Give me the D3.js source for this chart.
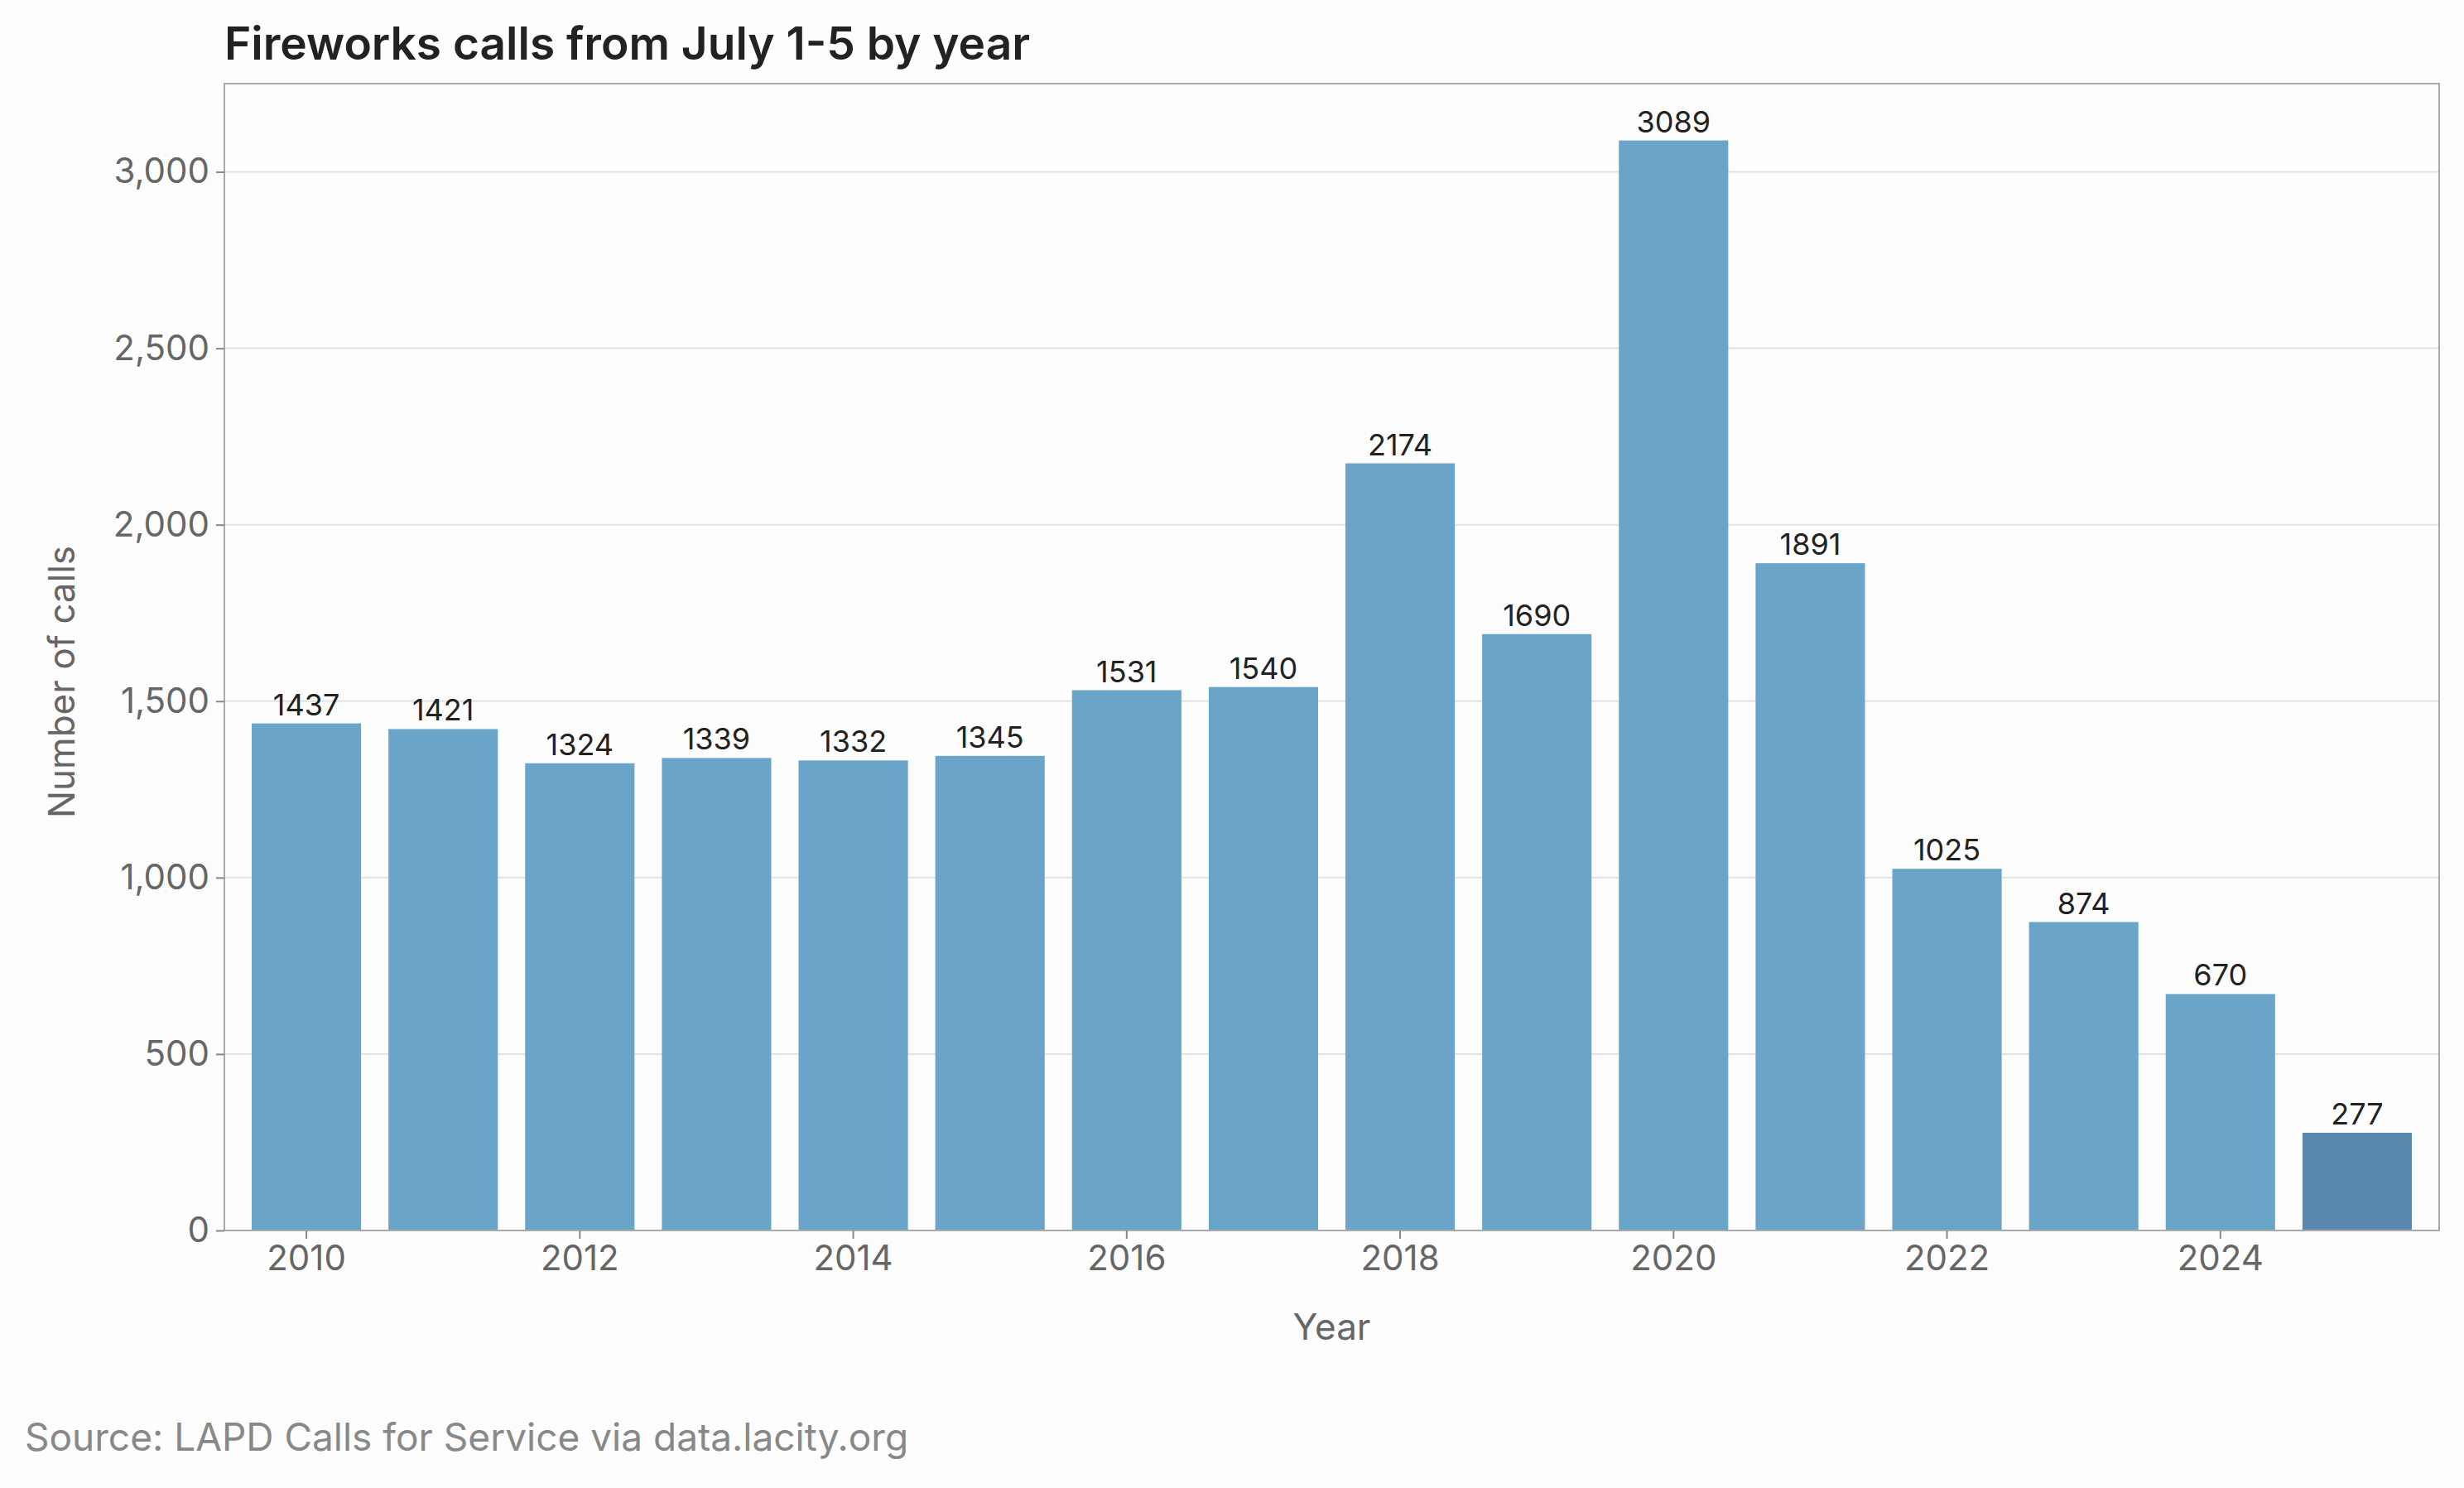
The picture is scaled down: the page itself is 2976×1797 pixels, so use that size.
<!DOCTYPE html>
<html><head><meta charset="utf-8">
<script src="https://cdn.jsdelivr.net/npm/d3@7"></script>
<style>body{margin:0;background:#fdfdfd}svg{display:block}</style>
</head><body><svg id="c" width="2976" height="1797"></svg>
<script>
const years=[2010,2011,2012,2013,2014,2015,2016,2017,2018,2019,2020,2021,2022,2023,2024,2025];
const calls=[1437,1421,1324,1339,1332,1345,1531,1540,2174,1690,3089,1891,1025,874,670,277];
const yTicks=[0,500,1000,1500,2000,2500,3000];
const xTickYears=[2010,2012,2014,2016,2018,2020,2022,2024];
const title="Fireworks calls from July 1-5 by year";
const source="Source: LAPD Calls for Service via data.lacity.org";

const svg=d3.select("#c"),F="Inter, 'Liberation Sans', sans-serif";
const L=271,R=2946,T=101,B=1486;
svg.append("rect").attr("width",2976).attr("height",1797).attr("fill","#fdfdfd");
const x=d3.scaleBand().domain(years).range([L,R]).padding(0.2);
const y=d3.scaleLinear().domain([0,3250]).range([B,T]);
svg.append("g").selectAll("line").data(yTicks).join("line")
 .attr("x1",L).attr("x2",R).attr("y1",d=>y(d)).attr("y2",d=>y(d)).attr("stroke","#e2e2e2").attr("stroke-width",2);
svg.append("g").selectAll("rect").data(years).join("rect")
 .attr("x",d=>x(d)).attr("width",x.bandwidth()).attr("y",(d,i)=>y(calls[i])).attr("height",(d,i)=>B-y(calls[i]))
 .attr("fill",d=>d===2025?"#5a87b0":"#6aa4c9");
svg.append("g").selectAll("text").data(years).join("text")
 .attr("x",d=>x(d)+x.bandwidth()/2).attr("y",(d,i)=>y(calls[i])-10).attr("text-anchor","middle")
 .attr("font-family",F).attr("font-size",36).attr("fill","#222").text((d,i)=>calls[i]);
svg.append("rect").attr("x",L).attr("y",T).attr("width",R-L).attr("height",B-T).attr("fill","none").attr("stroke","#aaa").attr("stroke-width",2);
const ya=svg.append("g").attr("transform",`translate(${L},0)`).call(d3.axisLeft(y).tickValues(yTicks).tickSize(10).tickPadding(8));
const xa=svg.append("g").attr("transform",`translate(0,${B})`).call(d3.axisBottom(x).tickValues(xTickYears).tickSize(10).tickPadding(8));
[ya,xa].forEach(a=>{a.select(".domain").remove();a.selectAll("line").attr("stroke","#888").attr("stroke-width",2);
 a.selectAll("text").attr("font-family",F).attr("font-size",42).attr("fill","#666");});
svg.append("text").attr("x",L).attr("y",72).attr("font-family",F).attr("font-weight",600).attr("font-size",55).attr("fill","#222").text(title);
svg.append("text").attr("x",(L+R)/2).attr("y",1618).attr("text-anchor","middle").attr("font-family",F).attr("font-size",44).attr("fill","#666").text("Year");
svg.append("text").attr("transform",`translate(90,${(T+B)/2+30}) rotate(-90)`).attr("text-anchor","middle").attr("font-family",F).attr("font-size",44).attr("fill","#666").text("Number of calls");
svg.append("text").attr("x",30).attr("y",1752).attr("font-family",F).attr("font-size",46).attr("fill","#888").text(source);
</script></body></html>
